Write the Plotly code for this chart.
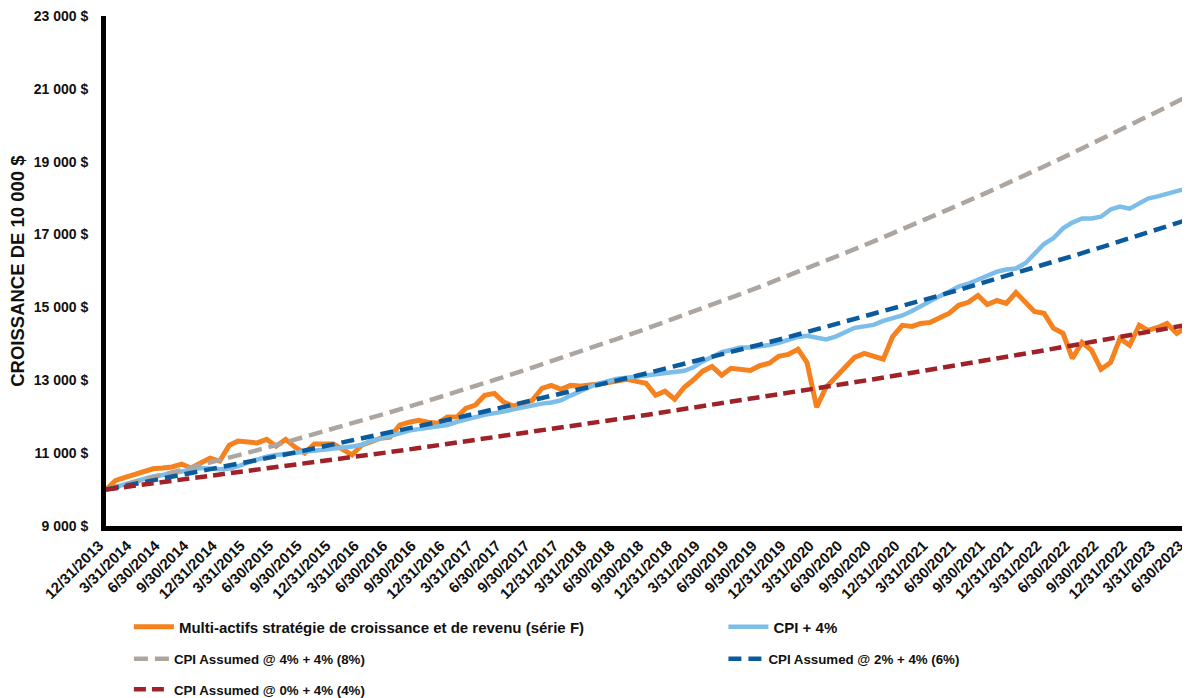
import pandas as pd
import plotly.graph_objects as go

# ---------------- data ----------------
months = pd.date_range("2013-12-31", periods=115, freq=pd.offsets.MonthEnd())
quarters = months[::3]

fund_f = [10000, 10250, 10330, 10420, 10500, 10570, 10590, 10620, 10700, 10590,
          10730, 10860, 10780, 11220, 11330, 11300, 11280, 11380, 11190, 11380,
          11160, 11000, 11250, 11250, 11250, 11100, 10950, 11220, 11300, 11410,
          11440, 11770, 11850, 11900, 11850, 11820, 11990, 11990, 12230, 12320,
          12590, 12640, 12400, 12290, 12370, 12450, 12780, 12860, 12750, 12860,
          12840, 12860, 12900, 12940, 13000, 13030, 12970, 12920, 12590, 12700,
          12480, 12810, 13000, 13250, 13380, 13140, 13330, 13310, 13270, 13400,
          13470, 13660, 13710, 13850, 13490, 12260, 12810, 13080, 13330, 13630,
          13740, 13660, 13580, 14200, 14510, 14480, 14560, 14590, 14730, 14840,
          15060, 15140, 15330, 15080, 15190, 15110, 15410, 15110, 14890, 14840,
          14430, 14290, 13600, 14040, 13820, 13300, 13490, 14150, 13960, 14510,
          14370, 14450, 14560, 14290, 14450]

cpi_plus4 = [10000, 10070, 10140, 10230, 10300, 10360, 10400, 10440, 10500, 10540,
             10590, 10580, 10560, 10580, 10640, 10740, 10830, 10900, 10950, 10980,
             11000, 11050, 11080, 11110, 11140, 11140, 11180, 11230, 11340, 11400,
             11480, 11560, 11620, 11660, 11700, 11730, 11770, 11860, 11930, 11990,
             12050, 12090, 12140, 12200, 12260, 12310, 12360, 12390, 12450, 12580,
             12700, 12810, 12910, 12990, 13040, 13070, 13100, 13130, 13160, 13180,
             13200, 13260, 13350, 13520, 13640, 13770, 13830, 13900, 13900, 13920,
             13970, 14030, 14100, 14190, 14220, 14160, 14120, 14200, 14330, 14440,
             14480, 14520, 14630, 14710, 14780, 14900, 15040, 15180, 15310, 15440,
             15570, 15650, 15760, 15860, 15980, 16040, 16070, 16220, 16450, 16740,
             16900, 17170, 17330, 17440, 17440, 17490, 17690, 17770, 17710, 17860,
             17990, 18050, 18120, 18190, 18260]

cpi8 = [10000, 10194, 10392, 10594, 10800, 11010, 11224, 11442, 11664, 11891,
        12122, 12357, 12597, 12842, 13091, 13346, 13605, 13869, 14139, 14413,
        14693, 14979, 15270, 15566, 15869, 16177, 16491, 16812, 17138, 17471,
        17811, 18157, 18509, 18869, 19236, 19609, 19990, 20379, 20775]

cpi6 = [10000, 10147, 10296, 10447, 10600, 10756, 10913, 11074, 11236, 11401,
        11568, 11738, 11910, 12085, 12262, 12442, 12625, 12810, 12998, 13188,
        13382, 13579, 13778, 13980, 14185, 14393, 14604, 14819, 15036, 15257,
        15481, 15708, 15938, 16172, 16409, 16650, 16895, 17143, 17394]

cpi4 = [10000, 10099, 10198, 10299, 10400, 10502, 10606, 10710, 10816, 10923,
        11030, 11139, 11249, 11360, 11471, 11584, 11699, 11814, 11930, 12048,
        12167, 12286, 12407, 12530, 12653, 12778, 12903, 13031, 13159, 13289,
        13420, 13552, 13686, 13821, 13957, 14094, 14233, 14374, 14515]

y_ticks = [9000, 11000, 13000, 15000, 17000, 19000, 21000, 23000]
y_tick_text = ["9 000 $", "11 000 $", "13 000 $", "15 000 $", "17 000 $",
               "19 000 $", "21 000 $", "23 000 $"]

names = ["Multi-actifs stratégie de croissance et de revenu (série F)",
         "CPI + 4%",
         "CPI Assumed @ 4% + 4% (8%)",
         "CPI Assumed @ 2% + 4% (6%)",
         "CPI Assumed @ 0% + 4% (4%)"]

# ---------------- figure ----------------
ORANGE = "#F5821F"
LBLUE = "#7CBDE9"
GRAY = "#ADA59F"
DBLUE = "#0A5A9C"
RED = "#9E2228"

fig = go.Figure()
fig.add_trace(go.Scatter(x=months, y=fund_f, mode="lines", name=names[0],
                         line=dict(color=ORANGE, width=5), legend="legend"))
fig.add_trace(go.Scatter(x=months, y=cpi_plus4, mode="lines", name=names[1],
                         line=dict(color=LBLUE, width=4.5), legend="legend2"))
fig.add_trace(go.Scatter(x=quarters, y=cpi8, mode="lines", name=names[2],
                         line=dict(color=GRAY, width=4.5, dash="14px,7px"), legend="legend3"))
fig.add_trace(go.Scatter(x=quarters, y=cpi6, mode="lines", name=names[3],
                         line=dict(color=DBLUE, width=4.5, dash="13px,7px"), legend="legend4"))
fig.add_trace(go.Scatter(x=quarters, y=cpi4, mode="lines", name=names[4],
                         line=dict(color=RED, width=4.5, dash="12px,6px"), legend="legend5"))

FONT = "Liberation Sans, Arial, sans-serif"

def leg(x, y, size, iw):
    return dict(x=x, y=y, xanchor="left", yanchor="middle", orientation="h",
                bgcolor="rgba(0,0,0,0)", itemwidth=iw,
                font=dict(family=FONT, size=size, color="#111111", weight="bold"))

col1, col2 = 0.0212, 0.5717
fig.update_layout(
    width=1182, height=690,
    margin=dict(l=98, r=4, t=8, b=172, autoexpand=False),
    paper_bgcolor="white", plot_bgcolor="white",
    font=dict(family=FONT, color="#111111"),
    showlegend=True,
    legend=leg(col1, -0.198, 15, 40),
    legend2=leg(col2, -0.198, 15, 40),
    legend3=leg(col1, -0.261, 13.3, 35),
    legend4=leg(col2, -0.261, 13.3, 35),
    legend5=leg(col1, -0.321, 13.3, 35),
    xaxis=dict(
        type="date", automargin=False,
        range=[months[0], months[-1]],
        tickmode="array", tickvals=list(quarters),
        tickformat="%-m/%d/%Y", tickangle=-45,
        tickfont=dict(family=FONT, size=15, color="#111111", weight="bold"),
        ticklabeloverflow="allow", ticklabelshift=-7,
        showgrid=False, zeroline=False,
        showline=True, linecolor="black", linewidth=5,
        ticks="",
    ),
    yaxis=dict(
        range=[9000, 23000], automargin=False,
        tickmode="array", tickvals=y_ticks, ticktext=y_tick_text,
        tickfont=dict(family=FONT, size=14, color="#111111", weight="bold"),
        ticklabeloverflow="allow",
        showgrid=False, zeroline=False,
        showline=True, linecolor="black", linewidth=5,
        ticks="", ticklabelstandoff=10,
    ),
    annotations=[dict(
        text="CROISSANCE DE 10 000 $", textangle=-90,
        xref="paper", yref="paper", x=-0.0826, y=0.5,
        xanchor="center", yanchor="middle", showarrow=False,
        font=dict(family=FONT, size=18.5, color="#111111", weight="bold"),
    )],
)

fig.write_html("out.html")
